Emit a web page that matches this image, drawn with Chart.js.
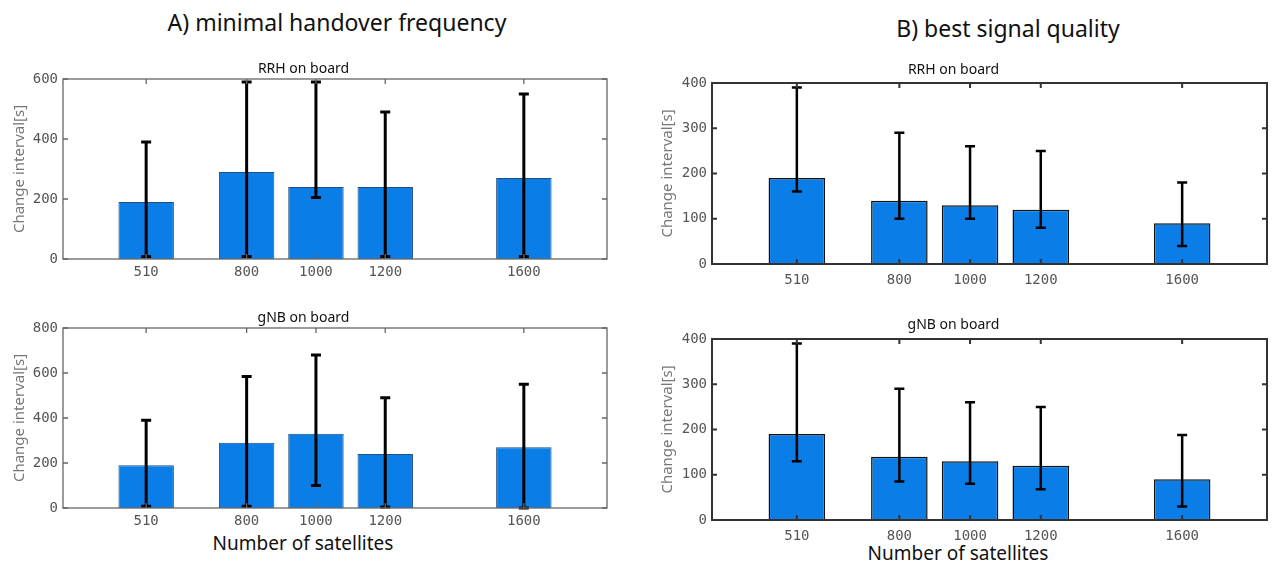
<!DOCTYPE html>
<html>
<head>
<meta charset="utf-8">
<script src="https://cdn.jsdelivr.net/npm/chart.js@4.4.0/dist/chart.umd.min.js"></script>
<style>
  body { margin: 0; width: 1275px; height: 569px; background: #fff; position: relative; overflow: hidden; font-family: "Noto Sans", sans-serif; }
  canvas { position: absolute; }
  .txt { position: absolute; transform: translate(-50%, -50%); white-space: nowrap; color: #111; }
</style>
</head>
<body>
<div class="txt" style="left:337px; top:22px; font-size:23px;">A) minimal handover frequency</div>
<div class="txt" style="left:1008px; top:28px; font-size:23px;">B) best signal quality</div>
<div class="txt" style="left:303px; top:543px; font-size:19px;">Number of satellites</div>
<div class="txt" style="left:958px; top:553px; font-size:19px;">Number of satellites</div>

<canvas id="aTop" width="620" height="239" style="left:0; top:50px"></canvas>
<canvas id="aBot" width="620" height="238" style="left:0; top:300px"></canvas>
<canvas id="bTop" width="635" height="246" style="left:640px; top:50px"></canvas>
<canvas id="bBot" width="635" height="252" style="left:640px; top:300px"></canvas>

<script>
// x positions (number of satellites)
const satellites = [510, 800, 1000, 1200, 1600];
const xRange = [270, 1840];

// A) minimal handover frequency
const aRrhMean = [190, 290, 240, 240, 270];
const aRrhLow  = [8, 8, 205, 8, 8];
const aRrhHigh = [390, 590, 590, 490, 550];
const aGnbMean = [190, 290, 330, 240, 270];
const aGnbLow  = [8, 8, 100, 5, 0];
const aGnbHigh = [390, 585, 680, 490, 550];

// B) best signal quality
const bRrhMean = [190, 140, 130, 120, 90];
const bRrhLow  = [160, 100, 100, 80, 40];
const bRrhHigh = [390, 290, 260, 250, 180];
const bGnbMean = [190, 140, 130, 120, 90];
const bGnbLow  = [130, 85, 80, 68, 30];
const bGnbHigh = [390, 290, 260, 250, 188];

// tick labels
const yTicksA1 = [0, 200, 400, 600];
const yTicksA2 = [0, 200, 400, 600, 800];
const yTicksB  = [0, 100, 200, 300, 400];

const BLUE = '#0a7ee6';

// error bars, drawn through the chart scales
const errorBars = {
  id: 'errorBars',
  afterDatasetsDraw(chart, args, opts) {
    const { ctx, scales: { x, y } } = chart;
    ctx.save();
    ctx.strokeStyle = '#000';
    ctx.lineWidth = opts.width;
    ctx.lineCap = 'butt';
    satellites.forEach((s, i) => {
      const px = x.getPixelForValue(s);
      const y1 = y.getPixelForValue(opts.low[i]);
      const y2 = y.getPixelForValue(opts.high[i]);
      ctx.beginPath();
      ctx.moveTo(px, y1); ctx.lineTo(px, y2);
      ctx.moveTo(px - opts.cap, y1); ctx.lineTo(px + opts.cap, y1);
      ctx.moveTo(px - opts.cap, y2); ctx.lineTo(px + opts.cap, y2);
      ctx.stroke();
    });
    ctx.restore();
  }
};

// matlab style box with inward ticks
const frameBox = {
  id: 'frameBox',
  afterDatasetsDraw(chart, args, opts) {
    const { ctx, chartArea: a, scales: { x, y } } = chart;
    ctx.save();
    ctx.strokeStyle = opts.color;
    ctx.lineWidth = opts.width;
    ctx.beginPath();
    x.ticks.forEach(t => {
      const px = x.getPixelForValue(t.value);
      ctx.moveTo(px, a.top); ctx.lineTo(px, a.top + 5);
      ctx.moveTo(px, a.bottom); ctx.lineTo(px, a.bottom - 5);
    });
    y.ticks.forEach(t => {
      const py = y.getPixelForValue(t.value);
      ctx.moveTo(a.left, py); ctx.lineTo(a.left + 5, py);
      ctx.moveTo(a.right, py); ctx.lineTo(a.right - 5, py);
    });
    ctx.stroke();
    ctx.strokeRect(a.left, a.top, a.right - a.left, a.bottom - a.top);
    ctx.restore();
  }
};

function makePanel(id, p) {
  const tickFont = { family: '"DejaVu Sans Mono", monospace', size: 14 };
  new Chart(document.getElementById(id), {
    type: 'bar',
    data: {
      datasets: [{
        data: satellites.map((s, i) => ({ x: s, y: p.mean[i] })),
        backgroundColor: BLUE,
        borderColor: p.barEdge,
        borderWidth: p.barEdgeW,
        categoryPercentage: 0.8,
        barPercentage: 1.0
      }]
    },
    options: {
      responsive: false,
      animation: false,
      layout: { padding: { left: 0, right: p.padRight, top: 0, bottom: 0 } },
      plugins: {
        legend: { display: false },
        tooltip: { enabled: false },
        title: {
          display: true,
          text: p.title,
          color: '#111',
          font: { family: '"Noto Sans", sans-serif', size: 14, weight: 'normal', lineHeight: 1 },
          padding: p.titlePad
        },
        errorBars: { low: p.low, high: p.high, width: p.errW, cap: 5 },
        frameBox: { color: p.frame, width: p.frameW }
      },
      scales: {
        x: {
          type: 'linear',
          min: xRange[0], max: xRange[1],
          offset: false,
          grid: { display: false, drawTicks: false, offset: false },
          border: { display: false },
          afterBuildTicks: s => { s.ticks = satellites.map(v => ({ value: v })); },
          afterFit: s => { s.height = p.xAxisH; },
          ticks: { color: '#555', font: tickFont, padding: p.xPad, maxRotation: 0, callback: v => String(v) }
        },
        y: {
          min: 0, max: p.yTicks[p.yTicks.length - 1],
          grid: { display: false, drawTicks: false },
          border: { display: false },
          afterBuildTicks: s => { s.ticks = p.yTicks.map(v => ({ value: v })); },
          afterFit: s => { s.width = p.yAxisW; },
          ticks: { color: '#555', font: tickFont, padding: 5 },
          title: {
            display: true,
            text: 'Change interval[s]',
            color: '#777',
            font: { family: '"Noto Sans", sans-serif', size: 15, lineHeight: 1 },
            padding: { top: p.yTitleOff, bottom: 0 }
          }
        }
      }
    },
    plugins: [errorBars, frameBox]
  });
}

const styleA = { barEdge: '#1f4f80', barEdgeW: 1, errW: 3, frame: '#666', frameW: 1.3, yAxisW: 63, padRight: 13, xAxisH: 30, xPad: 5, yTitleOff: 12 };
const styleB = { barEdge: '#111', barEdgeW: 1.5, errW: 2.5, frame: '#333', frameW: 2, yAxisW: 72, padRight: 8, xAxisH: 32, xPad: 8, yTitleOff: 20 };

makePanel('aTop', Object.assign({}, styleA, { title: 'RRH on board', mean: aRrhMean, low: aRrhLow, high: aRrhHigh, yTicks: yTicksA1, titlePad: { top: 12, bottom: 3 } }));
makePanel('aBot', Object.assign({}, styleA, { title: 'gNB on board', mean: aGnbMean, low: aGnbLow, high: aGnbHigh, yTicks: yTicksA2, titlePad: { top: 11, bottom: 3 } }));
makePanel('bTop', Object.assign({}, styleB, { title: 'RRH on board', mean: bRrhMean, low: bRrhLow, high: bRrhHigh, yTicks: yTicksB, titlePad: { top: 13, bottom: 6 } }));
makePanel('bBot', Object.assign({}, styleB, { title: 'gNB on board', mean: bGnbMean, low: bGnbLow, high: bGnbHigh, yTicks: yTicksB, titlePad: { top: 18, bottom: 7 } }));
</script>
</body>
</html>
